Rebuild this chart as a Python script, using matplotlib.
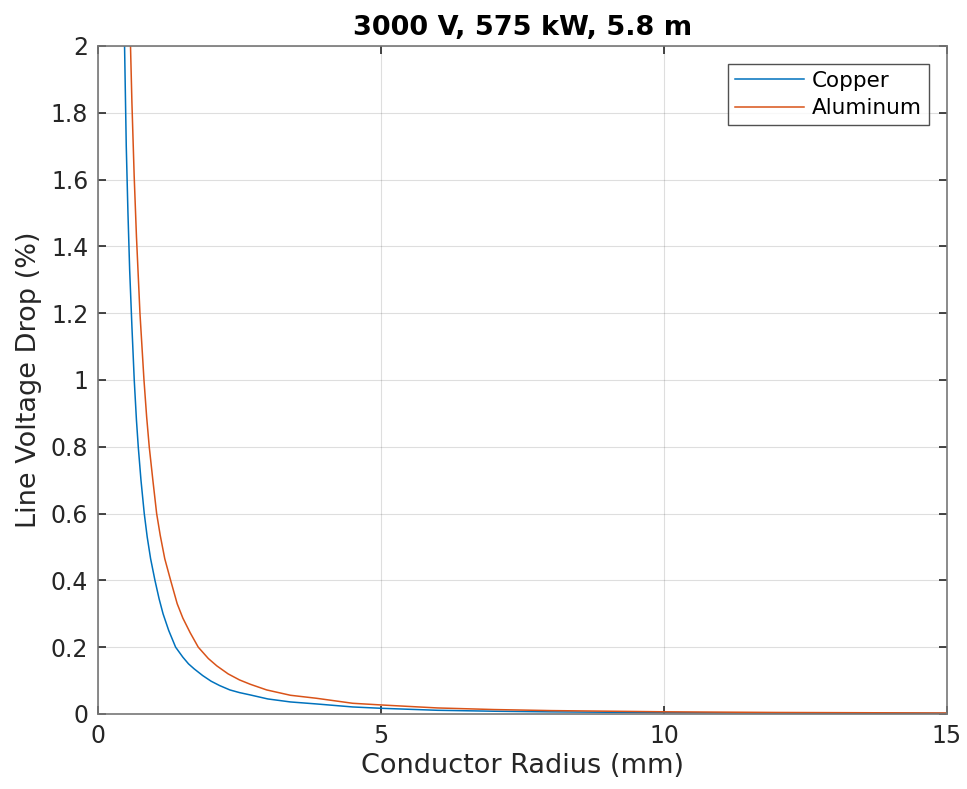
import matplotlib
matplotlib.use("Agg")
import matplotlib.pyplot as plt
from matplotlib.ticker import FuncFormatter

# values (radius in mm, drop in %)
copper_r = [0.45, 0.47, 0.5, 0.53, 0.56, 0.6, 0.641, 0.68, 0.712, 0.76, 0.818,
            0.87, 0.93, 1.007, 1.08, 1.15, 1.25, 1.372, 1.5, 1.6, 1.7, 1.85,
            2.0, 2.15, 2.33, 2.5, 2.69, 3.0, 3.4, 3.86, 4.5, 5.0, 6.0, 7.0,
            8.0, 10.0, 12.0, 15.0]
copper_drop = [2.08, 2.0, 1.70, 1.50, 1.33, 1.16, 1.0, 0.88, 0.80, 0.70, 0.60,
               0.53, 0.465, 0.40, 0.345, 0.30, 0.25, 0.20, 0.17, 0.15, 0.135,
               0.115, 0.098, 0.085, 0.072, 0.064, 0.057, 0.045, 0.036, 0.030,
               0.021, 0.017, 0.011, 0.0082, 0.0063, 0.004, 0.0028, 0.0018]

aluminum_r = [0.56, 0.575, 0.6, 0.64, 0.68, 0.742, 0.813, 0.86, 0.906, 0.97,
              1.037, 1.1, 1.18, 1.284, 1.4, 1.5, 1.63, 1.772, 1.95, 2.1, 2.3,
              2.5, 2.69, 2.98, 3.4, 3.86, 4.5, 5.0, 6.0, 7.0, 8.0, 10.0, 12.0,
              15.0]
aluminum_drop = [2.1, 2.0, 1.83, 1.61, 1.43, 1.2, 1.0, 0.89, 0.80, 0.70,
                 0.60, 0.535, 0.465, 0.40, 0.33, 0.287, 0.243, 0.20, 0.166,
                 0.144, 0.12, 0.102, 0.089, 0.072, 0.056, 0.047, 0.032, 0.027,
                 0.018, 0.0132, 0.0101, 0.0065, 0.0045, 0.0029]

x_ticks = [0, 5, 10, 15]
y_ticks = [0, 0.2, 0.4, 0.6, 0.8, 1.0, 1.2, 1.4, 1.6, 1.8, 2.0]

title = "3000 V, 575 kW, 5.8 m"

plt.rcParams['font.family'] = ['DejaVu Sans']

fig = plt.figure(figsize=(9.67, 7.89), dpi=100)
ax = fig.add_axes([0.1013, 0.0951, 0.8780, 0.8466])

ax.plot(copper_r, copper_drop, color='#0072BD', linewidth=1.1, label='Copper')
ax.plot(aluminum_r, aluminum_drop, color='#D95319', linewidth=1.1, label='Aluminum')

ax.set_xlim(0, 15)
ax.set_ylim(0, 2)
ax.set_xticks(x_ticks)
ax.set_yticks(y_ticks)
ax.yaxis.set_major_formatter(FuncFormatter(lambda v, p: f"{v:g}"))

ax.grid(True, color='#262626', alpha=0.15, linewidth=0.8)
ax.set_axisbelow(True)

ax.tick_params(direction='in', length=6, width=1.2, top=True, right=True,
               labelsize=17, colors='#262626', pad=7)
for s in ax.spines.values():
    s.set_color('#777777')
    s.set_linewidth(1.2)

ax.set_xlabel('Conductor Radius (mm)', fontsize=19.5, color='#262626', labelpad=4)
ax.set_ylabel('Line Voltage Drop (%)', fontsize=19.5, color='#262626', labelpad=6)
ax.set_title(title, fontsize=19.5, fontweight='bold', pad=8)

leg = ax.legend(loc='upper right', fontsize=15.5, frameon=True, fancybox=False,
                borderaxespad=0.85, handlelength=3.2, borderpad=0.3,
                labelspacing=0.35, handletextpad=0.4)
leg.get_frame().set_edgecolor('#262626')
leg.get_frame().set_linewidth(1.0)

fig.savefig('out.png', dpi=100)
